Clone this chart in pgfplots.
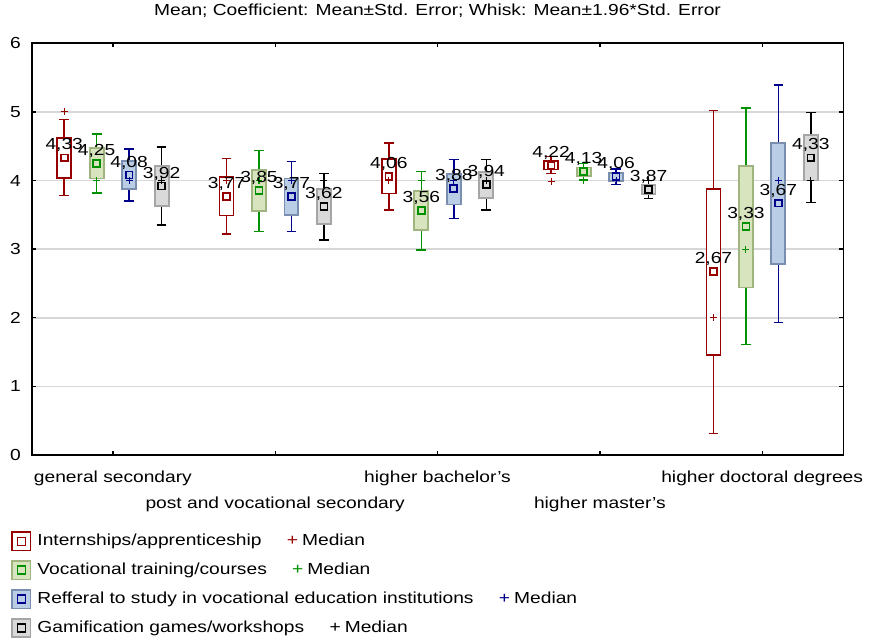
\documentclass[border=0pt]{standalone}
\usepackage{fontspec}
\setmainfont{Liberation Sans}[FakeStretch=1.2]
\usepackage{pgfplots}
\pgfplotsset{compat=1.18}
\usepgfplotslibrary{statistics}

\definecolor{rdln}{RGB}{150,0,0}
\definecolor{gnln}{RGB}{0,145,0}
\definecolor{gnbox}{RGB}{160,180,128}
\definecolor{gnfill}{RGB}{216,228,189}
\definecolor{blln}{RGB}{0,0,140}
\definecolor{blbox}{RGB}{122,142,176}
\definecolor{blfill}{RGB}{185,205,229}
\definecolor{gyln}{RGB}{0,0,0}
\definecolor{gybox}{RGB}{165,165,165}
\definecolor{gyfill}{RGB}{217,217,217}
\definecolor{gridc}{RGB}{215,215,215}

\newcommand\fs{\fontsize{12}{14.4}\selectfont}

\pgfplotsset{
  bx/.style={forget plot, solid, line width=1.1pt,
    boxplot/draw direction=y,
    boxplot/box extend=0.086, boxplot/whisker extend=0.06,
    boxplot/every median/.style={draw=none}},
  s1/.style={bx, draw=rdln, boxplot/every box/.style={draw=rdln, fill=white, line width=1.4pt}},
  s2/.style={bx, draw=gnln, boxplot/every box/.style={draw=gnbox, fill=gnfill, line width=1.4pt}},
  s3/.style={bx, draw=blln, boxplot/every box/.style={draw=blbox, fill=blfill, line width=1.4pt}},
  s4/.style={bx, draw=gyln, boxplot/every box/.style={draw=gybox, fill=gyfill, line width=1.4pt}},
  mn/.style={forget plot, only marks, mark=square, mark size=2.6pt,
    mark options={line width=1.3pt, solid, fill=none, draw=#1},
    point meta=y, nodes near coords,
    nodes near coords style={font=\fs, text=black, anchor=center, yshift=9.4pt,
      /pgf/number format/fixed, /pgf/number format/fixed zerofill,
      /pgf/number format/precision=2, /pgf/number format/use comma,
      /pgf/number format/assume math mode=true}},
  md/.style={forget plot, only marks, mark=+, mark size=2.6pt,
    mark options={line width=0.8pt, solid, draw=#1}},
}

\begin{document}
\fs
\begin{tikzpicture}
\useasboundingbox (-23.8pt,-138pt) rectangle (628.7pt,341.25pt);
\begin{axis}[
    scale only axis,
    width=608.7pt, height=308.8pt,
    xmin=-0.5, xmax=4.5, ymin=0, ymax=6,
    ytick={0,1,2,3,4,5,6},
    xtick={0,2,4},
    xticklabels={general secondary, higher bachelor's, higher doctoral degrees},
    extra x ticks={1,3},
    extra x tick labels={post and vocational secondary, higher master's},
    extra x tick style={xticklabel style={yshift=-19pt}},
    xticklabel style={font=\fs, anchor=base, yshift=-20.8pt},
    yticklabel style={font=\fs, anchor=east, inner sep=0pt, xshift=-8pt},
    /pgf/number format/assume math mode=true,
    ymajorgrids,
    grid style={gridc, line width=1.2pt},
    axis line style={line width=1.2pt},
    major tick length=3pt,
    tick style={black, line width=1pt},
    title={Mean; Coefficient: Mean±Std. Error; Whisk: Mean±1.96*Std. Error},
    title style={font=\fs, at={(0.5,1)}, anchor=base, yshift=14.5pt},
    legend style={at={(axis description cs:-0.0255,-0.1846)}, anchor=north west,
      draw=none, fill=none, inner sep=0pt, outer sep=0pt, row sep=6.4pt,
      font=\fs, nodes={inner sep=0pt},
      /tikz/every odd column/.append style={column sep=4.5pt}},
    legend cell align=left,
]

% general secondary
\addplot[s1, boxplot prepared={draw position=-0.3, lower whisker=3.78, lower quartile=4.04, median=4.33, upper quartile=4.62, upper whisker=4.89}] coordinates {};
\addplot[s2, boxplot prepared={draw position=-0.1, lower whisker=3.82, lower quartile=4.03, median=4.25, upper quartile=4.47, upper whisker=4.68}] coordinates {};
\addplot[s3, boxplot prepared={draw position=0.1, lower whisker=3.70, lower quartile=3.88, median=4.08, upper quartile=4.28, upper whisker=4.46}] coordinates {};
\addplot[s4, boxplot prepared={draw position=0.3, lower whisker=3.35, lower quartile=3.63, median=3.92, upper quartile=4.21, upper whisker=4.49}] coordinates {};
% post and vocational secondary
\addplot[s1, boxplot prepared={draw position=0.7, lower whisker=3.22, lower quartile=3.49, median=3.77, upper quartile=4.05, upper whisker=4.32}] coordinates {};
\addplot[s2, boxplot prepared={draw position=0.9, lower whisker=3.26, lower quartile=3.55, median=3.85, upper quartile=4.15, upper whisker=4.44}] coordinates {};
\addplot[s3, boxplot prepared={draw position=1.1, lower whisker=3.26, lower quartile=3.50, median=3.77, upper quartile=4.03, upper whisker=4.28}] coordinates {};
\addplot[s4, boxplot prepared={draw position=1.3, lower whisker=3.13, lower quartile=3.37, median=3.62, upper quartile=3.87, upper whisker=4.10}] coordinates {};
% higher bachelor's
\addplot[s1, boxplot prepared={draw position=1.7, lower whisker=3.57, lower quartile=3.81, median=4.06, upper quartile=4.31, upper whisker=4.55}] coordinates {};
\addplot[s2, boxplot prepared={draw position=1.9, lower whisker=2.99, lower quartile=3.28, median=3.56, upper quartile=3.85, upper whisker=4.13}] coordinates {};
\addplot[s3, boxplot prepared={draw position=2.1, lower whisker=3.45, lower quartile=3.65, median=3.88, upper quartile=4.09, upper whisker=4.31}] coordinates {};
\addplot[s4, boxplot prepared={draw position=2.3, lower whisker=3.57, lower quartile=3.74, median=3.94, upper quartile=4.13, upper whisker=4.31}] coordinates {};
% higher master's
\addplot[s1, boxplot prepared={draw position=2.7, lower whisker=4.10, lower quartile=4.16, median=4.22, upper quartile=4.29, upper whisker=4.35}] coordinates {};
\addplot[s2, boxplot prepared={draw position=2.9, lower whisker=4.01, lower quartile=4.07, median=4.13, upper quartile=4.19, upper whisker=4.25}] coordinates {};
\addplot[s3, boxplot prepared={draw position=3.1, lower whisker=3.94, lower quartile=3.99, median=4.06, upper quartile=4.11, upper whisker=4.17}] coordinates {};
\addplot[s4, boxplot prepared={draw position=3.3, lower whisker=3.74, lower quartile=3.80, median=3.87, upper quartile=3.94, upper whisker=4.00}] coordinates {};
% higher doctoral degrees
\addplot[s1, boxplot prepared={draw position=3.7, lower whisker=0.31, lower quartile=1.46, median=2.67, upper quartile=3.87, upper whisker=5.02}] coordinates {};
\addplot[s2, boxplot prepared={draw position=3.9, lower whisker=1.61, lower quartile=2.44, median=3.33, upper quartile=4.21, upper whisker=5.06}] coordinates {};
\addplot[s3, boxplot prepared={draw position=4.1, lower whisker=1.93, lower quartile=2.78, median=3.67, upper quartile=4.55, upper whisker=5.39}] coordinates {};
\addplot[s4, boxplot prepared={draw position=4.3, lower whisker=3.68, lower quartile=4.00, median=4.33, upper quartile=4.66, upper whisker=4.99}] coordinates {};

% medians
\addplot[md=rdln] coordinates {(-0.3,5.00) (0.7,4.00) (1.7,4.00) (2.7,3.99) (3.7,2.00)};
\addplot[md=gnln] coordinates {(-0.1,4.00) (0.9,4.00) (1.9,4.00) (2.9,4.00) (3.9,3.00)};
\addplot[md=blln] coordinates {(0.1,4.00) (1.1,4.00) (2.1,4.00) (3.1,4.00) (4.1,4.00)};
\addplot[md=gyln] coordinates {(0.3,4.00) (1.3,4.00) (2.3,4.00) (3.3,4.00) (4.3,4.00)};

% means with labels
\addplot[mn=rdln] coordinates {(-0.3,4.33) (0.7,3.77) (1.7,4.06) (2.7,4.22) (3.7,2.67)};
\addplot[mn=gnln] coordinates {(-0.1,4.25) (0.9,3.85) (1.9,3.56) (2.9,4.13) (3.9,3.33)};
\addplot[mn=blln] coordinates {(0.1,4.08) (1.1,3.77) (2.1,3.88) (3.1,4.06) (4.1,3.67)};
\addplot[mn=gyln] coordinates {(0.3,3.92) (1.3,3.62) (2.3,3.94) (3.3,3.87) (4.3,4.33)};

\addlegendimage{legend image code/.code={
  \draw[draw=rdln, fill=white, line width=1.3pt] (0pt,-7pt) rectangle (14pt,7pt);
  \draw[draw=rdln, line width=1pt] (4pt,-3pt) rectangle (10pt,3pt);}}
\addlegendentry{Internships/apprenticeship\hspace{19pt}{\color{rdln}+}\hspace{3pt}Median}
\addlegendimage{legend image code/.code={
  \draw[draw=gnbox, fill=gnfill, line width=1.3pt] (0pt,-7pt) rectangle (14pt,7pt);
  \draw[draw=gnln, line width=1pt] (4pt,-3pt) rectangle (10pt,3pt);}}
\addlegendentry{Vocational training/courses\hspace{19pt}{\color{gnln}+}\hspace{3pt}Median}
\addlegendimage{legend image code/.code={
  \draw[draw=blbox, fill=blfill, line width=1.3pt] (0pt,-7pt) rectangle (14pt,7pt);
  \draw[draw=blln, line width=1pt] (4pt,-3pt) rectangle (10pt,3pt);}}
\addlegendentry{Refferal to study in vocational education institutions\hspace{19pt}{\color{blln}+}\hspace{3pt}Median}
\addlegendimage{legend image code/.code={
  \draw[draw=gybox, fill=gyfill, line width=1.3pt] (0pt,-7pt) rectangle (14pt,7pt);
  \draw[draw=gyln, line width=1pt] (4pt,-3pt) rectangle (10pt,3pt);}}
\addlegendentry{Gamification games/workshops\hspace{19pt}{\color{gyln}+}\hspace{3pt}Median}

\end{axis}
\end{tikzpicture}
\end{document}
